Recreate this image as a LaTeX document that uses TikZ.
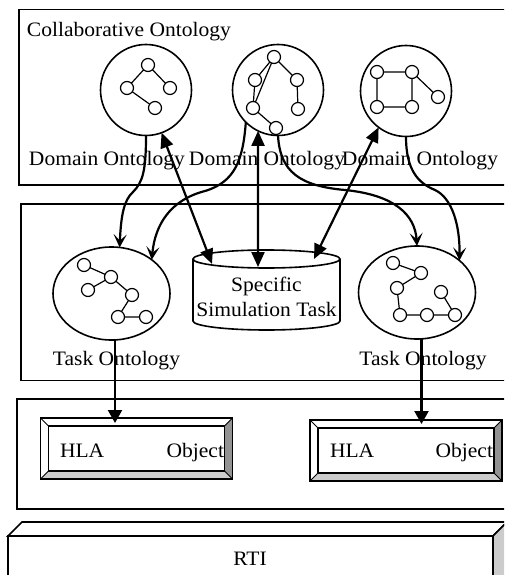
\documentclass[tikz,border=0pt]{standalone}
\usepackage{fontspec}
\setmainfont{Liberation Serif}[FakeStretch=1.05]
\usetikzlibrary{arrows.meta,shapes.geometric}

\begin{document}
\begin{tikzpicture}[x=1pt,y=-1pt,
  every node/.style={inner sep=0pt,outer sep=0pt,font=\fontsize{20.5}{25}\selectfont},
  layer/.style={draw,line width=1.6pt,anchor=north west},
  ont/.style={draw,circle,line width=1.6pt,minimum size=91pt},
  taskont/.style={draw,ellipse,line width=1.6pt,minimum width=117pt,minimum height=93pt},
  dot/.style={draw,circle,line width=1.2pt,minimum size=13pt,fill=white},
  link/.style={line width=1.2pt},
  hlabox/.style={minimum width=192pt,minimum height=61pt},
  bevline/.style={line width=1.5pt},
  taskflow/.style={line width=2.2pt,-{Stealth[length=13pt,width=13pt,inset=6pt]}},
  twoway/.style={line width=2.2pt,{Triangle[length=15pt,width=13pt]}-{Triangle[length=15pt,width=13pt]}},
  feed/.style={line width=2.2pt,-{Triangle[length=13pt,width=14pt]}}
]
\useasboundingbox (0,0) rectangle (504,575);
\clip (0,0) rectangle (504,575);

% ---- layers ----
\node[layer,minimum width=491pt,minimum height=175.5pt] (collab) at (19,9.5) {};
\node[layer,minimum width=489pt,minimum height=176.5pt] (tasklayer) at (21,204) {};
\node[layer,minimum width=493pt,minimum height=110pt] (fedlayer) at (17,399) {};
\node[anchor=base west] (title) at (27,37) {Collaborative Ontology};

% ---- domain ontologies ----
\node[ont] (dl) at (146,90) {};
\node[ont] (dm) at (278,90) {};
\node[ont] (dr) at (406,91) {};

\node[dot] (dla) at (148,65) {};
\node[dot] (dlb) at (127,88) {};
\node[dot] (dlc) at (170,88) {};
\node[dot] (dld) at (155,108) {};
\draw[link] (dla) -- (dlb) (dla) -- (dlc) (dlb) -- (dld);

\node[dot] (dma) at (274,57) {};
\node[dot] (dmb) at (255,80) {};
\node[dot] (dmc) at (297,80) {};
\node[dot] (dmd) at (253,108) {};
\node[dot] (dme) at (298,109) {};
\node[dot] (dmf) at (276,128) {};
\draw[link] (dma) -- (dmb) (dma) -- (dmc) (dma) -- (dmd) (dmb) -- (dmd)
  (dmc) -- (dme) (dmd) -- (dmf);

\node[dot] (dra) at (377,72) {};
\node[dot] (drb) at (412,72) {};
\node[dot] (drc) at (377,107) {};
\node[dot] (drd) at (412,107) {};
\node[dot] (dre) at (438,97) {};
\draw[link] (dra) -- (drb) (drb) -- (drd) (drd) -- (drc) (drc) -- (dra) (drb) -- (dre);

\node[anchor=base] (dlL) at (107,165) {Domain Ontology};
\node[anchor=base] (dmL) at (267,165) {Domain Ontology};
\node[anchor=base] (drL) at (420,165) {Domain Ontology};

% ---- task ontologies ----
\node[taskont] (tl) at (111.5,293.5) {};
\node[taskont] (tr) at (417,292.5) {};

\node[dot] (tla) at (84,265) {};
\node[dot] (tlb) at (111,277) {};
\node[dot] (tlc) at (88,290) {};
\node[dot] (tld) at (132,295) {};
\node[dot] (tle) at (118,317) {};
\node[dot] (tlf) at (146,317) {};
\draw[link] (tla) -- (tlb) (tlc) -- (tlb) (tlb) -- (tld) (tld) -- (tle) (tle) -- (tlf);

\node[dot] (tra) at (393,263) {};
\node[dot] (trb) at (421,273) {};
\node[dot] (trc) at (397,288) {};
\node[dot] (trd) at (441,292) {};
\node[dot] (tre) at (400,315) {};
\node[dot] (trf) at (427,315) {};
\node[dot] (trg) at (455,315) {};
\draw[link] (tra) -- (trb) (trb) -- (trc) (trc) -- (tre) (tre) -- (trf) (trf) -- (trg) (trd) -- (trg);

\node[anchor=base] (tlL) at (116.5,365) {Task Ontology};
\node[anchor=base] (trL) at (423,365) {Task Ontology};

% ---- simulation task store (cylinder) ----
\filldraw[fill=white,line width=1.6pt] (193,259) -- (193,321)
  arc[start angle=180,end angle=360,x radius=73.5pt,y radius=9pt] -- (340,259);
\draw[line width=1.6pt] (266.5,259) ellipse [x radius=73.5pt,y radius=9pt];
\node[align=center] (sst) at (266.5,297) {Specific\\Simulation Task};
\coordinate (sstL) at (212,264);
\coordinate (sstM) at (258,267);
\coordinate (sstR) at (314,259);

% ---- HLA objects (bevelled boxes) ----
\node[hlabox] (hla1) at (136.4,448.5) {};
\node[hlabox] (hla2) at (406,450.5) {};
\foreach \b in {hla1,hla2}{
  \fill[gray!85] (\b.north east) -- (\b.south east) -- ([xshift=-8pt,yshift=8pt]\b.south east)
    -- ([xshift=-8pt,yshift=-8pt]\b.north east) -- cycle;
  \fill[gray!40] (\b.south west) -- (\b.south east) -- ([xshift=-8pt,yshift=8pt]\b.south east)
    -- ([xshift=8pt,yshift=8pt]\b.south west) -- cycle;
  \draw[bevline] (\b.north west) rectangle (\b.south east);
  \draw[bevline] ([xshift=8pt,yshift=-8pt]\b.north west) rectangle ([xshift=-8pt,yshift=8pt]\b.south east);
  \draw[line width=0.9pt] (\b.north west) -- ([xshift=8pt,yshift=-8pt]\b.north west)
    (\b.north east) -- ([xshift=-8pt,yshift=-8pt]\b.north east)
    (\b.south east) -- ([xshift=-8pt,yshift=8pt]\b.south east)
    (\b.south west) -- ([xshift=8pt,yshift=8pt]\b.south west);
}
\node[anchor=base west] (hla1a) at (60,457) {HLA};
\node[anchor=base east] (hla1b) at (224,457) {Object};
\node[anchor=base west] (hla2a) at (330,457) {HLA};
\node[anchor=base east] (hla2b) at (493,457) {Object};
\coordinate (hla1top) at (115,423);
\coordinate (hla2top) at (421.5,424);

% ---- RTI slab ----
\node[draw,line width=1.6pt,minimum width=485pt,minimum height=64pt] (rti) at (250.5,568) {};
\filldraw[fill=white,line width=1.6pt] (rti.north west) -- ++(14,-14) -- ++(485,0) -- (rti.north east) -- cycle;
\filldraw[fill=gray!40,line width=1.6pt] (rti.north east) -- ++(14,-14) -- ++(0,64) -- (rti.south east) -- cycle;
\node[anchor=base] (rtiL) at (250,565) {RTI};

% ---- connectors ----
\draw[taskflow] (dl.south) .. controls (146,170) and (143,182) .. (133,192)
  .. controls (124,200) and (121,215) .. (tl.80);
\draw[taskflow] (dm.225) .. controls (243,160) and (235,182) .. (205,191)
  .. controls (170,200) and (155,225) .. (tl.40);
\draw[taskflow] (dm.south) .. controls (280,172) and (300,186) .. (345,190)
  .. controls (395,195) and (415,215) .. (tr.north);
\draw[taskflow] (dr.south) .. controls (406,170) and (418,183) .. (435,190)
  .. controls (452,198) and (460,225) .. (tr.37);

\draw[twoway] (dl.290) -- (sstL);
\draw[twoway] (dm.244) -- (sstM);
\draw[twoway] (dr.233) -- (sstR);

\draw[feed] ([xshift=3.5pt]tl.south) -- (hla1top);
\draw[feed] ([xshift=4.5pt]tr.south) -- (hla2top);
\end{tikzpicture}
\end{document}
